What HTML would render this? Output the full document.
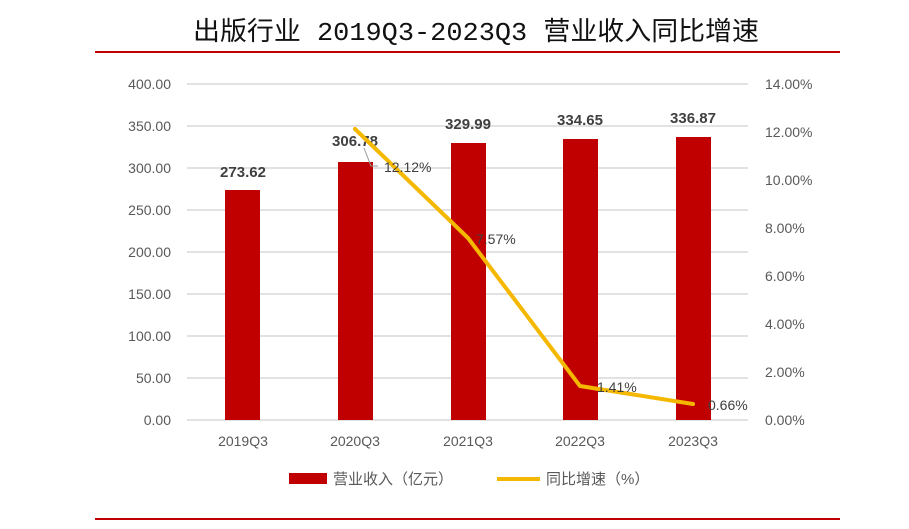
<!DOCTYPE html>
<html><head><meta charset="utf-8"><style>
body{margin:0;background:#fff;}
svg{display:block;}
</style></head><body>
<svg width="909" height="529" xmlns="http://www.w3.org/2000/svg" font-family="Liberation Sans, Noto Sans CJK SC, sans-serif">
<rect width="909" height="529" fill="#fff"/>
<text x="193" y="40" textLength="566" lengthAdjust="spacingAndGlyphs" font-size="26" fill="#111" font-family="Liberation Mono, Noto Sans CJK SC, monospace">出版行业 2019Q3-2023Q3 营业收入同比增速</text>
<line x1="95" y1="52" x2="840" y2="52" stroke="#c00000" stroke-width="2"/>
<line x1="95" y1="519" x2="840" y2="519" stroke="#c00000" stroke-width="2"/>
<g stroke="#d9d9d9" stroke-width="1.5">
<line x1="187" y1="84" x2="748" y2="84"/><line x1="187" y1="126" x2="748" y2="126"/>
<line x1="187" y1="168" x2="748" y2="168"/><line x1="187" y1="210" x2="748" y2="210"/>
<line x1="187" y1="252" x2="748" y2="252"/><line x1="187" y1="294" x2="748" y2="294"/>
<line x1="187" y1="336" x2="748" y2="336"/><line x1="187" y1="378" x2="748" y2="378"/>
<line x1="187" y1="420" x2="748" y2="420"/>
</g>
<g font-size="14" fill="#595959" text-anchor="end">
<text x="171" y="89">400.00</text><text x="171" y="131">350.00</text><text x="171" y="173">300.00</text>
<text x="171" y="215">250.00</text><text x="171" y="257">200.00</text><text x="171" y="299">150.00</text>
<text x="171" y="341">100.00</text><text x="171" y="383">50.00</text><text x="171" y="425">0.00</text>
</g>
<g font-size="14" fill="#595959">
<text x="765" y="89">14.00%</text><text x="765" y="137">12.00%</text><text x="765" y="185">10.00%</text>
<text x="765" y="233">8.00%</text><text x="765" y="281">6.00%</text><text x="765" y="329">4.00%</text>
<text x="765" y="377">2.00%</text><text x="765" y="425">0.00%</text>
</g>
<g fill="#c00000">
<rect x="225" y="190" width="35" height="230"/>
<rect x="338" y="162" width="35" height="258"/>
<rect x="451" y="143" width="35" height="277"/>
<rect x="563" y="139" width="35" height="281"/>
<rect x="676" y="137" width="35" height="283"/>
</g>
<g font-size="15" font-weight="bold" fill="#404040" text-anchor="middle">
<text x="243" y="177">273.62</text><text x="355" y="146">306.78</text><text x="468" y="129">329.99</text>
<text x="580" y="125">334.65</text><text x="693" y="123">336.87</text>
</g>
<polyline points="355,129 468,238 580,386 693,404" fill="none" stroke="#f5b800" stroke-width="4" stroke-linejoin="round" stroke-linecap="round"/>
<polyline points="364,148 371,166 378,166" fill="none" stroke="#999" stroke-width="1"/>
<g font-size="14" fill="#404040">
<text x="384" y="172">12.12%</text><text x="476" y="244">7.57%</text>
<text x="597" y="392">1.41%</text><text x="708" y="410">0.66%</text>
</g>
<g font-size="14" fill="#595959" text-anchor="middle">
<text x="243" y="446">2019Q3</text><text x="355" y="446">2020Q3</text><text x="468" y="446">2021Q3</text>
<text x="580" y="446">2022Q3</text><text x="693" y="446">2023Q3</text>
</g>
<rect x="289" y="473" width="38" height="11" fill="#c00000"/>
<text x="333" y="484" font-size="15" fill="#595959">营业收入（亿元）</text>
<line x1="497" y1="479" x2="540" y2="479" stroke="#f5b800" stroke-width="4"/>
<text x="546" y="484" font-size="15" fill="#595959">同比增速（%）</text>
</svg>
</body></html>
